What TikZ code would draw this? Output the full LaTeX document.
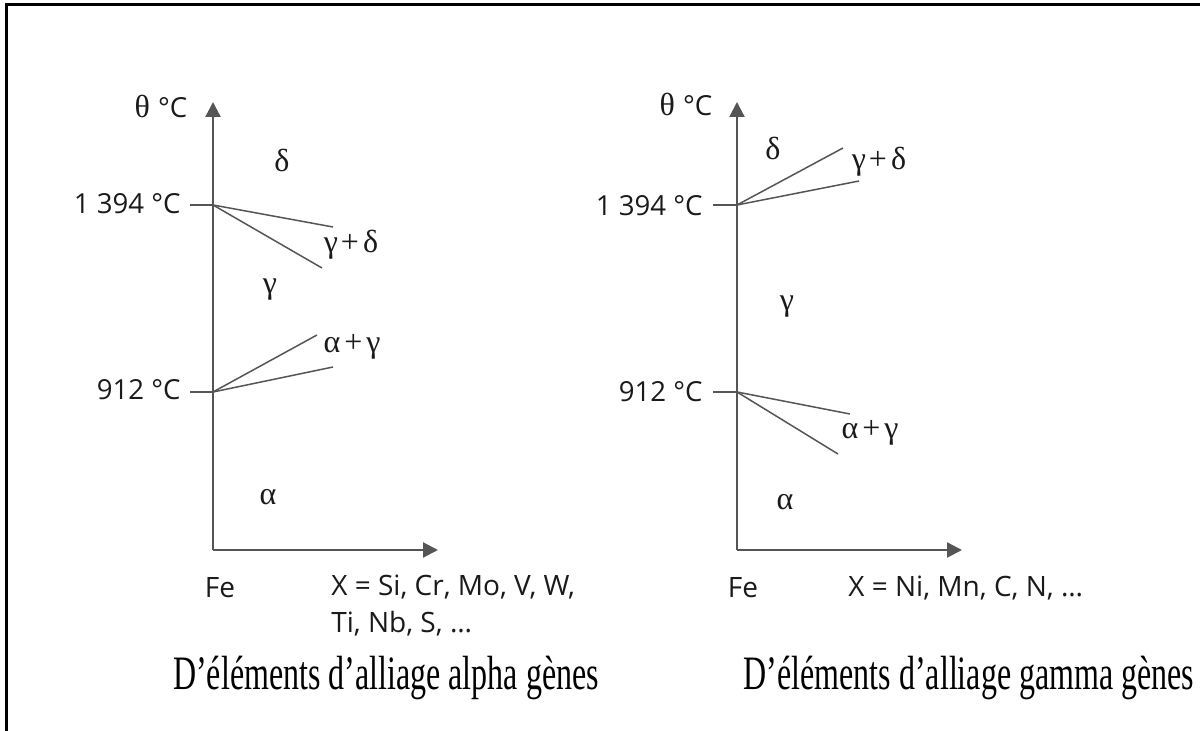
\documentclass[tikz,border=0pt]{standalone}
\usepackage{fontspec}
\usepackage{graphicx}
\setmainfont{Liberation Serif}
\newfontfamily\labfont{Open Sans}
\usetikzlibrary{arrows.meta}
\definecolor{axisgray}{HTML}{555555}
\definecolor{ink}{HTML}{1A1A1A}
\begin{document}
\begin{tikzpicture}[
    x=0.5pt, y=-0.5pt,
    axis/.style={draw=axisgray, line width=1.1pt, -{Triangle[length=7.5pt,width=7.5pt]}},
    phase/.style={draw=axisgray, line width=0.75pt},
    temp/.style={font=\labfont\fontsize{13.8}{16}\selectfont, text=ink, anchor=east, inner sep=0pt},
    lab/.style={font=\labfont\fontsize{14}{18.5}\selectfont, text=ink, inner sep=0pt},
    greek/.style={font=\fontsize{16}{18}\selectfont, text=ink, inner sep=0pt},
    caption/.style={font=\fontsize{16}{18}\selectfont, text=black, inner sep=0pt}
  ]
  \useasboundingbox (0,0) rectangle (1200,731);
  \draw[line width=1.5pt] (6,731) |- (1200,5);

  % alpha gene elements
  \coordinate (O1) at (213,550);
  \coordinate (T1) at (213,102);
  \coordinate (R1) at (438,550);
  \draw[axis] (O1) -- (T1);
  \draw[axis] (O1) -- (R1);
  \node[greek] (th1) at (161,106) {θ {\labfont\fontsize{13.8}{16}\selectfont °C}};
  \coordinate (h1) at (213,205);
  \coordinate (k1) at (190,205);
  \coordinate (l1) at (213,392);
  \coordinate (m1) at (190,392);
  \node[temp] (hi1) at (181,204) {1 394 °C};
  \node[temp] (lo1) at (181,390) {912 °C};
  \draw[phase] (k1) -- (h1);
  \draw[phase] (m1) -- (l1);
  \coordinate (gd1) at (333,227);
  \coordinate (gd2) at (322,268);
  \coordinate (ag1) at (317,335);
  \coordinate (ag2) at (333,367);
  \draw[phase] (h1) -- (gd1);
  \draw[phase] (h1) -- (gd2);
  \draw[phase] (l1) -- (ag1);
  \draw[phase] (l1) -- (ag2);
  \node[greek] (d1) at (282,160) {δ};
  \node[greek] (gpd1) at (351,245) {γ\kern1.5pt+\kern2ptδ};
  \node[greek] (g1) at (270,290) {γ};
  \node[greek] (apg1) at (352,347) {α\kern2pt+\kern2ptγ};
  \node[greek] (a1) at (268,497) {α};
  \node[lab] (fe1) at (220,588) {Fe};
  \node[lab, anchor=north west, align=left] (x1) at (331,575) {X = Si, Cr, Mo, V, W,\\Ti, Nb, S, …};
  \node[caption] (c1) at (386,678) {\scalebox{1}[1.5]{D’éléments d’alliage alpha gènes}};

  % gamma gene elements
  \coordinate (O2) at (737,550);
  \coordinate (T2) at (737,102);
  \coordinate (R2) at (962,550);
  \draw[axis] (O2) -- (T2);
  \draw[axis] (O2) -- (R2);
  \node[greek] (th2) at (686,104) {θ {\labfont\fontsize{13.8}{16}\selectfont °C}};
  \coordinate (h2) at (737,205);
  \coordinate (k2) at (713,205);
  \coordinate (l2) at (737,392);
  \coordinate (m2) at (713,392);
  \node[temp] (hi2) at (703,206) {1 394 °C};
  \node[temp] (lo2) at (703,392) {912 °C};
  \draw[phase] (k2) -- (h2);
  \draw[phase] (m2) -- (l2);
  \coordinate (gd3) at (843,148);
  \coordinate (gd4) at (859,181);
  \coordinate (ag3) at (850,414);
  \coordinate (ag4) at (838,454);
  \draw[phase] (h2) -- (gd3);
  \draw[phase] (h2) -- (gd4);
  \draw[phase] (l2) -- (ag3);
  \draw[phase] (l2) -- (ag4);
  \node[greek] (d2) at (773,148) {δ};
  \node[greek] (gpd2) at (879,162) {γ\kern1.5pt+\kern2ptδ};
  \node[greek] (g2) at (787,307) {γ};
  \node[greek] (apg2) at (870,433) {α\kern2pt+\kern2ptγ};
  \node[greek] (a2) at (785,502) {α};
  \node[lab] (fe2) at (743,588) {Fe};
  \node[lab, anchor=west] (x2) at (848,588) {X = Ni, Mn, C, N, …};
  \node[caption] (c2) at (969,678) {\scalebox{1}[1.5]{D’éléments d’alliage gamma gènes}};
\end{tikzpicture}
\end{document}
